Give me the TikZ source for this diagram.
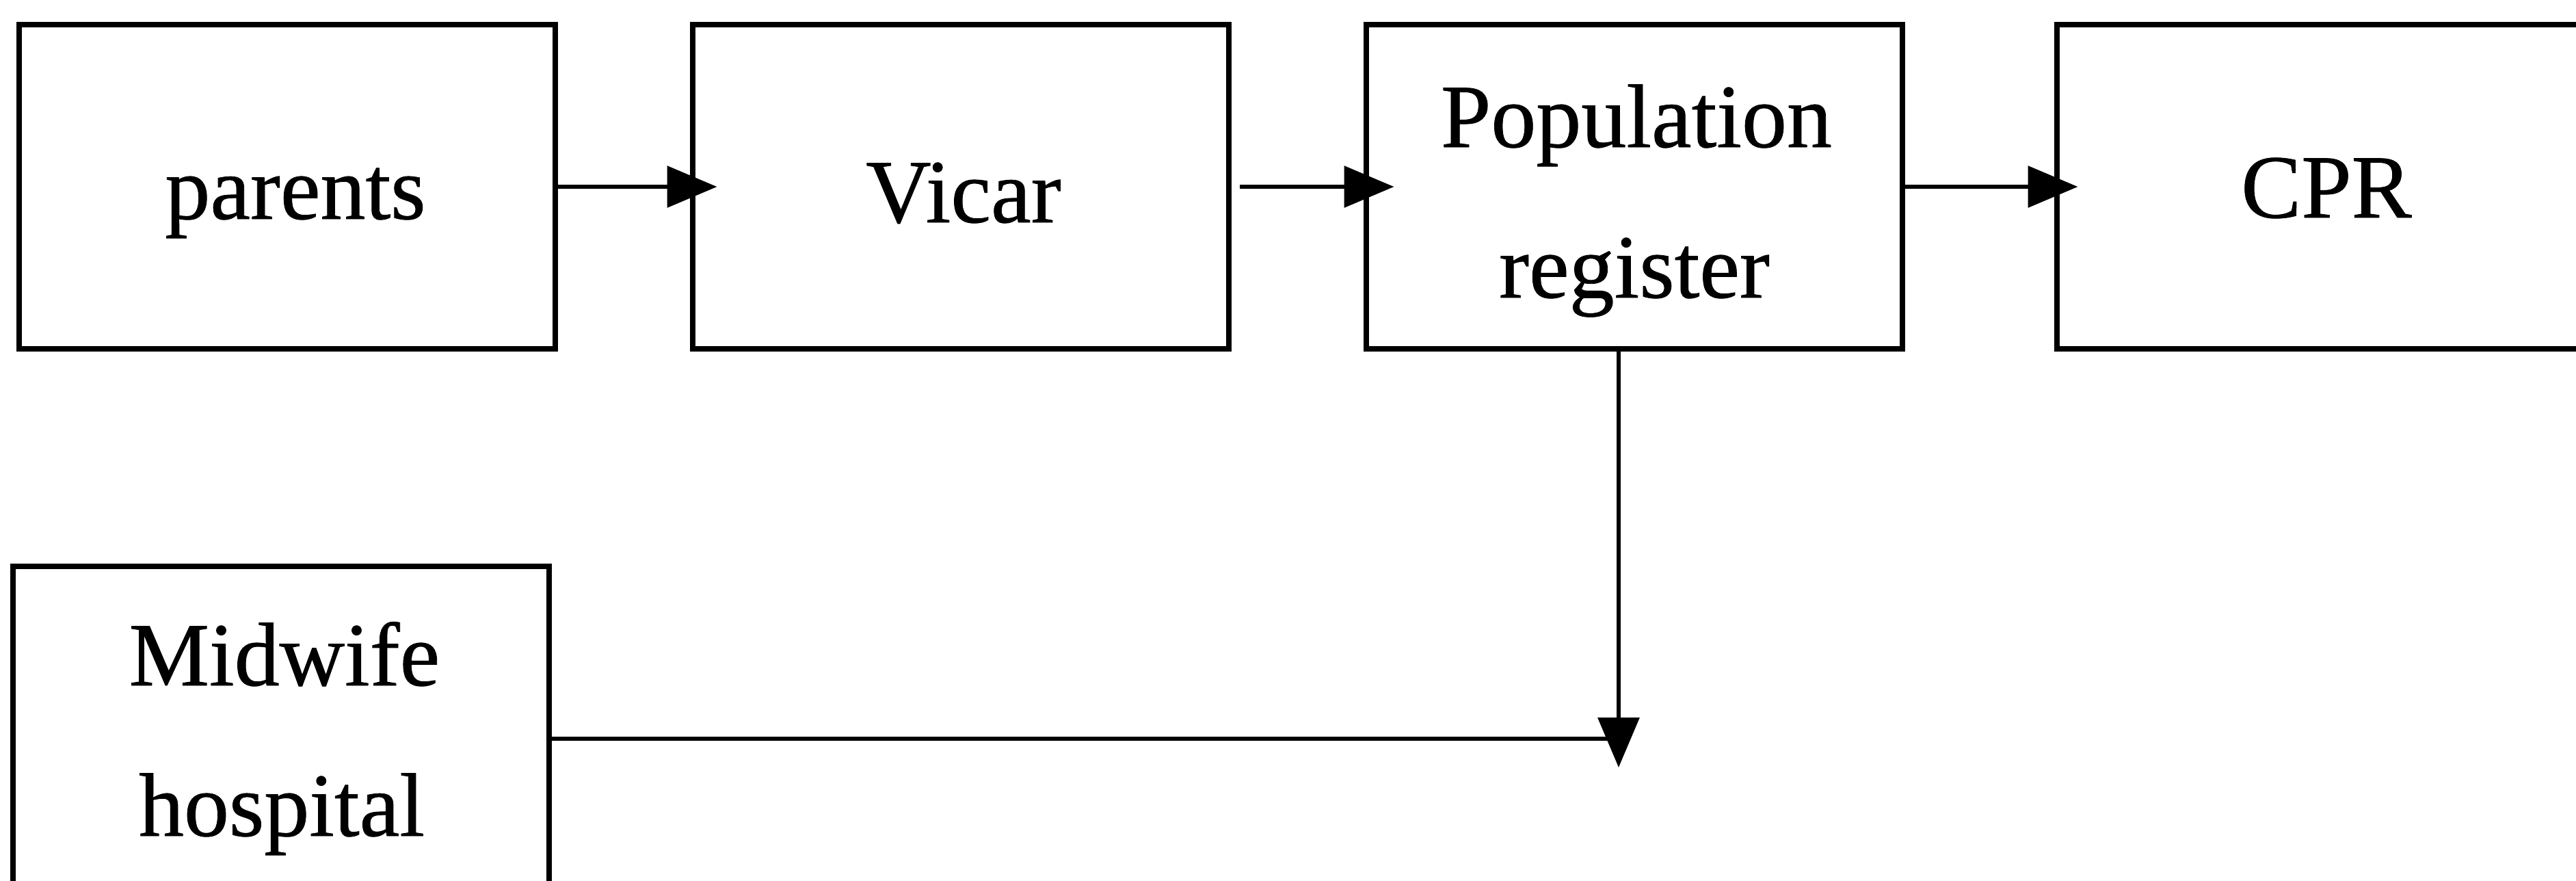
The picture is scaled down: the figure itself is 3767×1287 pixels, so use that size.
\documentclass[tikz,border=0pt]{standalone}
\usepackage{fontspec}
\setmainfont[FakeBold=0.6]{Liberation Serif}
\usetikzlibrary{arrows.meta,calc}
\begin{document}
\begin{tikzpicture}[x=0.1pt,y=-0.1pt,
  box/.style={draw,line width=0.8pt,inner sep=0pt,minimum width=78.5pt,minimum height=47.4pt},
  label/.style={anchor=base,inner sep=0pt,font=\fontsize{13.2pt}{16pt}\selectfont},
  link/.style={line width=0.65pt},
  conn/.style={link,-{Triangle[length=7.3pt,width=6pt]}}]
\useasboundingbox (0,0) rectangle (3767,1287);

% boxes of the flow
\node[box] (parents) at (420,273) {};
\node[box] (vicar) at (1405,273) {};
\node[box] (pr) at (2390,273) {};
\node[box] (cpr) at (3400,273) {};
\node[box,minimum height=50.4pt] (midwife) at (411,1080) {};

% box texts
\node[label] (tparents) at (432,320) {parents};
\node[label] (tvicar) at (1409,325) {Vicar};
\node[label] (tpop) at (2393,215) {Population};
\node[label] (treg) at (2390,435) {register};
\node[label] (tcpr) at (3402,318) {CPR};
\node[label] (tmid) at (416,1002) {Midwife};
\node[label] (thosp) at (412,1222) {hospital};

% connectors
\draw[conn] (parents.east) -- ($(vicar.west)+(40,0)$);
\draw[conn] ($(vicar.east)+(12,0)$) -- ($(pr.west)+(45,0)$);
\draw[conn] (pr.east) -- ($(cpr.west)+(35,0)$);

\coordinate (meet) at (2367,1080);
\draw[link] (midwife.east) -- (meet);
\draw[conn] (pr.south -| meet) -- ($(meet)+(0,42)$);
\end{tikzpicture}
\end{document}
